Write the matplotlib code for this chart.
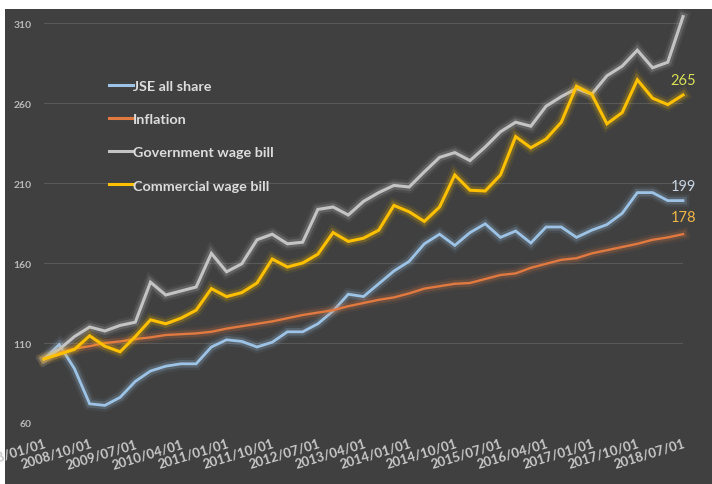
import matplotlib
matplotlib.use('Agg')
import matplotlib.pyplot as plt
import matplotlib.patheffects as pe
from matplotlib.patches import Rectangle

# quarterly index, 2008/01/01 = 100
quarters = ['2008/01/01', '2008/10/01', '2009/07/01', '2010/04/01', '2011/01/01',
            '2011/10/01', '2012/07/01', '2013/04/01', '2014/01/01', '2014/10/01',
            '2015/07/01', '2016/04/01', '2017/01/01', '2017/10/01', '2018/07/01']

jse = [100, 109, 94, 72, 71, 76, 86, 92.5, 95.5, 97, 97, 107.5, 112, 111, 107.5,
       110.5, 117, 117, 122, 130, 140.5, 139, 147, 155, 161, 172, 178, 171, 179,
       184.5, 176, 180, 172.5, 182.5, 182.5, 176, 180.5, 184, 191, 204, 204, 199, 199]

inflation = [100, 104, 106.5, 108, 110, 111, 112.5, 113.5, 115, 115.5, 116, 117,
             119, 120.5, 122, 123.5, 125.5, 127.5, 129, 130.5, 133, 135, 137, 138.5,
             141, 144, 145.5, 147, 147.5, 150, 152.5, 153.5, 157, 159.5, 162, 163,
             166, 168, 170, 172, 174.5, 176, 178]

gov_wage = [100, 106, 114, 120, 117.5, 121, 123, 148, 140, 142.5, 145, 166, 154.5,
            159.5, 174.5, 178, 172, 173, 193.5, 195, 190, 198.5, 204, 208.5, 207.5,
            217, 226, 229, 224, 232.5, 242, 248, 245.5, 258, 264, 269, 265.5, 277,
            283, 293, 282, 285.5, 314]

com_wage = [100, 103, 106, 114.5, 108, 104.5, 114, 124.5, 122, 125.5, 130.5, 144,
            139, 141.5, 147.5, 162.5, 157.5, 160, 165.5, 179, 173.5, 175.5, 180.5,
            196, 192, 186, 195, 215, 205.5, 205, 215, 239, 232, 237.5, 248, 270.5,
            265.5, 247, 254, 274.5, 263, 259, 265]

bg = '#404040'
fig = plt.figure(figsize=(7.12, 4.85), dpi=100, facecolor='white')
fig.patches.append(Rectangle((5 / 712, 0), 1, 1 - 10 / 485, transform=fig.transFigure,
                             facecolor=bg, edgecolor='none', zorder=-10))
ax = fig.add_axes([44 / 712, 61 / 485, 639 / 712, 408 / 485])
ax.set_facecolor(bg)

x = list(range(len(jse)))


def glow_line(vals, color, lw, label):
    effects = [pe.Stroke(linewidth=lw + 7, foreground=color, alpha=0.08),
               pe.Stroke(linewidth=lw + 3.5, foreground=color, alpha=0.2),
               pe.Normal()]
    ax.plot(x, vals, color=color, lw=lw, label=label, clip_on=False,
            path_effects=effects, solid_joinstyle='miter')


glow_line(jse, '#9dc3e6', 2.0, 'JSE all share')
glow_line(inflation, '#e07a40', 1.7, 'Inflation')
glow_line(gov_wage, '#c4c4c4', 2.2, 'Government wage bill')
glow_line(com_wage, '#ffc000', 2.2, 'Commercial wage bill')

ax.set_xlim(0, len(jse) - 1)
ax.set_ylim(60, 315)
ax.set_yticks([60, 110, 160, 210, 260, 310])
ax.set_xticks(range(0, len(jse), 3))
ax.set_xticklabels(quarters, rotation=17, ha='right', va='top', rotation_mode='anchor',
                   fontsize=9.5, fontweight='bold', color='#c8c8c8', family='Lato')
for t in ax.get_yticklabels():
    t.set_fontsize(7.5)
    t.set_fontweight('bold')
    t.set_color('#b8b8b8')
    t.set_family('Lato')
ax.tick_params(axis='x', length=0, pad=10)
ax.tick_params(axis='y', length=0, pad=9)
ax.grid(axis='y', color='#585858', lw=0.8)
ax.set_axisbelow(True)
for s in ax.spines.values():
    s.set_visible(False)

leg = ax.legend(loc='upper left', bbox_to_anchor=(0.081, 0.872), frameon=False,
                handlelength=1.65, handletextpad=0.05, labelspacing=1.45,
                prop={'family': 'Lato', 'weight': 'bold', 'size': 10.4})
for t in leg.get_texts():
    t.set_color('#dcdcdc')
for h in leg.get_lines():
    h.set_path_effects([])
    h.set_linewidth(2.2)

last = len(jse) - 1
ax.annotate('265', (last, com_wage[-1]), xytext=(0, 11), textcoords='offset points',
            ha='center', va='center', fontsize=10.5, color='#d9e157', family='Lato')
ax.annotate('199', (last, jse[-1]), xytext=(0, 10.5), textcoords='offset points',
            ha='center', va='center', fontsize=10.5, color='#c5d3e3', family='Lato')
ax.annotate('178', (last, inflation[-1]), xytext=(0, 12.5), textcoords='offset points',
            ha='center', va='center', fontsize=10.5, color='#eeb548', family='Lato')

fig.savefig('out.png', dpi=100, facecolor=fig.get_facecolor())
